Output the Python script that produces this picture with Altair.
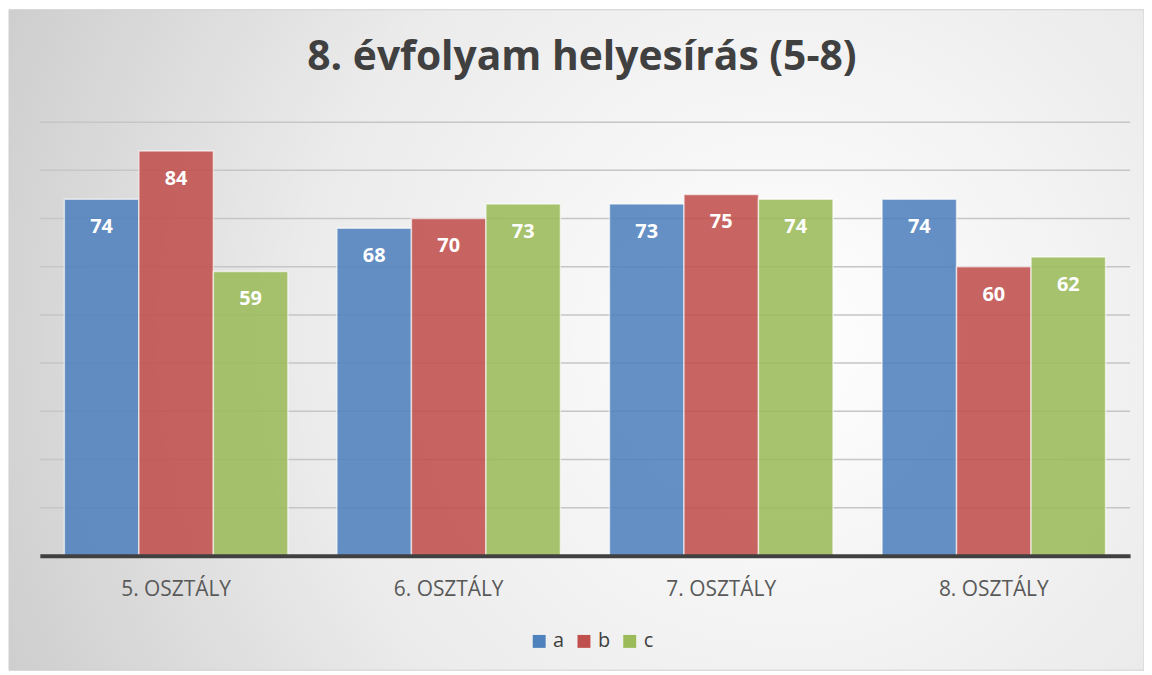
import altair as alt
import pandas as pd

categories = ["5. OSZTÁLY", "6. OSZTÁLY", "7. OSZTÁLY", "8. OSZTÁLY"]
series = ["a", "b", "c"]
values_a = [74, 68, 73, 74]
values_b = [84, 70, 75, 60]
values_c = [59, 73, 74, 62]
grid_values = [10, 20, 30, 40, 50, 60, 70, 80, 90]
colors = ["#4f81bd", "#c0504d", "#9bbb59"]
title_text = "8. évfolyam helyesírás (5-8)"

rows = []
for cat, a, b, c in zip(categories, values_a, values_b, values_c):
    rows.append({"cat": cat, "series": "a", "value": a})
    rows.append({"cat": cat, "series": "b", "value": b})
    rows.append({"cat": cat, "series": "c", "value": c})
df = pd.DataFrame(rows)
grid_df = pd.DataFrame({"g": grid_values})

W, H = 1096, 436
FONT = "Open Sans"

bg = alt.Chart(pd.DataFrame({"d": [0]})).mark_rect(
    fill=alt.Gradient(
        gradient="radial",
        stops=[alt.GradientStop(color="#ffffff", offset=0),
               alt.GradientStop(color="#ebebeb", offset=0.5),
               alt.GradientStop(color="#c4c4c4", offset=1)],
        x1=0.68, y1=0.5, r1=0, x2=0.68, y2=0.5, r2=0.85,
    ),
    stroke="#d0d0d0", strokeWidth=1,
).encode(
    x=alt.value(-31), x2=alt.value(W + 14),
    y=alt.value(-113), y2=alt.value(H + 115),
)

yscale = alt.Scale(domain=[0, 90], nice=False)

grid = alt.Chart(grid_df).mark_rule(color="#c6c6c6", strokeWidth=1.5).encode(
    y=alt.Y("g:Q", scale=yscale, axis=None),
    x=alt.value(0), x2=alt.value(W),
)

xenc = alt.X("cat:N", sort=categories, title=None,
             scale=alt.Scale(paddingInner=0.18, paddingOuter=0.09),
             axis=alt.Axis(labelAngle=0, labelFontSize=21, labelFont=FONT,
                           labelColor="#595959", labelPadding=34,
                           labelBaseline="middle", ticks=False,
                           domainColor="#404040", domainWidth=4, grid=False,
                           zindex=2))

bars = alt.Chart(df).mark_bar(
    fillOpacity=0.88, stroke="#ffffff", strokeOpacity=0.6, strokeWidth=1.5
).encode(
    x=xenc,
    xOffset=alt.XOffset("series:N", sort=series),
    y=alt.Y("value:Q", scale=yscale, axis=None),
    color=alt.Color("series:N", sort=series,
                    scale=alt.Scale(domain=series, range=colors),
                    legend=alt.Legend(title=None, orient="none", direction="horizontal",
                                      legendX=492, legendY=512,
                                      symbolType="square", symbolSize=169,
                                      symbolStrokeWidth=0,
                                      labelFontSize=20, labelFont=FONT,
                                      labelColor="#404040", columnPadding=9,
                                      labelOffset=4, zindex=2)),
)

labels = alt.Chart(df).mark_text(
    color="#ffffff", fontWeight="bold", fontSize=20, font=FONT,
    baseline="middle", dy=28,
).encode(
    x=alt.X("cat:N", sort=categories),
    xOffset=alt.XOffset("series:N", sort=series),
    y=alt.Y("value:Q", scale=yscale),
    text=alt.Text("value:Q"),
)

title = alt.Chart(pd.DataFrame({"t": [title_text]})).mark_text(
    fontSize=41, fontWeight="bold", font=FONT, color="#404040",
    baseline="middle", align="center",
).encode(
    x=alt.value(545), y=alt.value(-64), text="t:N",
)

chart = alt.layer(bg, grid, bars, labels, title).properties(
    width=W, height=H,
    padding={"left": 32, "top": 113, "right": 14, "bottom": 115},
    autosize=alt.AutoSizeParams(type="none"),
).configure_view(stroke=None).configure(background="#ffffff")

chart.save("out.html", embed_options={"renderer": "svg", "actions": False})
